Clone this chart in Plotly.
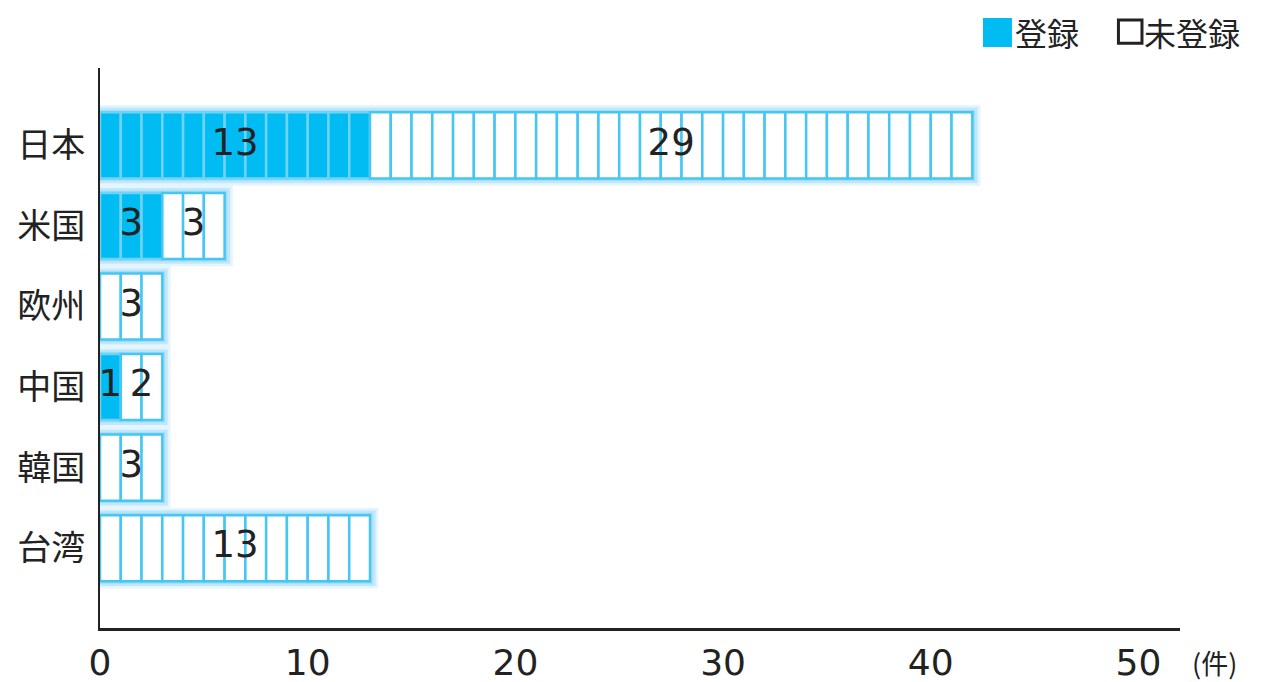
import plotly.graph_objects as go

categories = ["日本", "米国", "欧州", "中国", "韓国", "台湾"]
registered = [13, 3, 0, 1, 0, 0]
unregistered = [29, 3, 3, 2, 3, 13]
x_ticks = [0, 10, 20, 30, 40, 50]
legend_labels = ["登録", "未登録"]
unit_label = "(件)"

CYAN = "#00bcf2"
LINE_REG = "#6fd3f6"
LINE_UNREG = "#45c6f3"

pos = list(range(len(categories)))
totals = [r + u for r, u in zip(registered, unregistered)]

fig = go.Figure()

# soft glow behind bars
for w, col in [(1.0, "rgba(120,205,245,0.20)"), (0.94, "rgba(120,205,245,0.32)"), (0.88, "rgba(120,205,245,0.42)")]:
    ext = (w - 0.82) * 2.2
    fig.add_trace(go.Bar(
        y=pos, x=[t + ext * 2 for t in totals], base=[-ext] * len(pos),
        orientation="h", width=w, marker=dict(color=col, line=dict(width=0)),
        hoverinfo="skip", showlegend=False))

# unit segments
for k in range(max(totals)):
    ys, cols, lcols = [], [], []
    for i, t in enumerate(totals):
        if k < t:
            ys.append(i)
            if k < registered[i]:
                cols.append(CYAN); lcols.append(LINE_REG)
            else:
                cols.append("white"); lcols.append(LINE_UNREG)
    fig.add_trace(go.Bar(
        y=ys, x=[1] * len(ys), base=[k] * len(ys), orientation="h", width=0.82,
        marker=dict(color=cols, line=dict(color=lcols, width=2.5)),
        hoverinfo="skip", showlegend=False))

# value labels
lx, ly, lt = [], [], []
for i in pos:
    if registered[i] > 0:
        lx.append(registered[i] / 2); ly.append(i); lt.append(str(registered[i]))
    if unregistered[i] > 0:
        lx.append(registered[i] + unregistered[i] / 2); ly.append(i); lt.append(str(unregistered[i]))
fig.add_trace(go.Scatter(
    x=lx, y=ly, text=lt, mode="text", cliponaxis=False,
    textfont=dict(family="DejaVu Sans", size=37, color="#222222"),
    hoverinfo="skip", showlegend=False))

fig.update_layout(
    width=1264, height=682,
    margin=dict(l=100, r=84, t=68, b=54),
    paper_bgcolor="white", plot_bgcolor="white",
    barmode="overlay",
    xaxis=dict(range=[0, 52], tickvals=x_ticks, ticktext=[str(v) for v in x_ticks],
               showgrid=False, zeroline=False, showline=True, linecolor="#222222", linewidth=3,
               ticks="", ticklabelstandoff=1, automargin=False,
               tickfont=dict(family="DejaVu Sans", size=36, color="#222222")),
    yaxis=dict(range=[5.99, -0.96], tickvals=pos, ticktext=categories,
               showgrid=False, zeroline=False, showline=True, linecolor="#222222", linewidth=2,
               ticks="", ticklabelstandoff=6, automargin=False,
               tickfont=dict(family="Noto Sans CJK JP", size=34, color="#222222")),
)

# custom legend
fig.add_shape(type="rect", xref="paper", yref="paper", x0=0.8176, x1=0.8444, y0=1.0375, y1=1.0893,
              fillcolor=CYAN, line=dict(width=0))
fig.add_shape(type="rect", xref="paper", yref="paper", x0=0.9430, x1=0.9648, y0=1.0440, y1=1.0857,
              fillcolor="white", line=dict(color="#222222", width=3))
fig.add_annotation(xref="paper", yref="paper", x=0.8455, y=1.0643, xanchor="left", yanchor="middle",
                   text=legend_labels[0], showarrow=False,
                   font=dict(family="Noto Sans CJK JP", size=32, color="#222222"))
fig.add_annotation(xref="paper", yref="paper", x=0.9650, y=1.0643, xanchor="left", yanchor="middle",
                   text=legend_labels[1], showarrow=False,
                   font=dict(family="Noto Sans CJK JP", size=32, color="#222222"))
fig.add_annotation(xref="paper", yref="paper", x=1.0324, y=-0.061, xanchor="center", yanchor="middle",
                   text=unit_label, showarrow=False, borderpad=0,
                   font=dict(family="Noto Sans CJK JP", size=27, color="#222222"))

fig.write_html("out.html", config={"displayModeBar": False},
               post_script="document.body.style.margin='0';document.documentElement.style.overflow='hidden';")
